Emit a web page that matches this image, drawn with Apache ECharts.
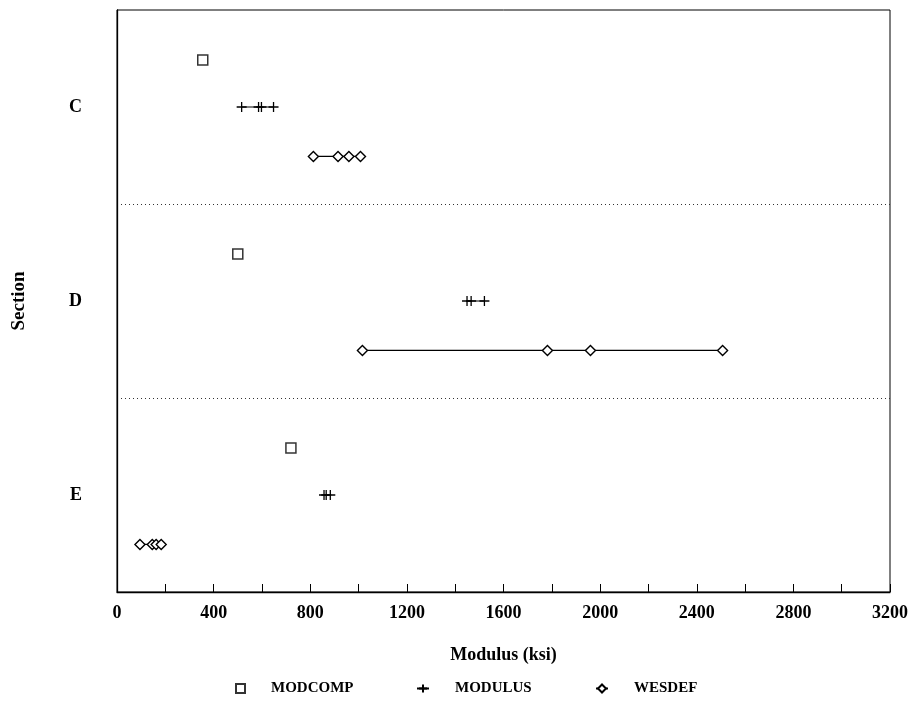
<!DOCTYPE html>
<html>
<head>
<meta charset="utf-8">
<script src="https://cdn.jsdelivr.net/npm/echarts@6/dist/echarts.min.js"></script>
<style>
html,body{margin:0;padding:0;background:#fff;}
#chart{width:917px;height:709px;}
</style>
</head>
<body>
<div id="chart"></div>
<script>
// Categories (sections, top to bottom)
var sections = ['C', 'D', 'E'];
// Series names
var seriesNames = ['MODCOMP', 'MODULUS', 'WESDEF'];
// Modulus values (ksi) per section
var modcomp = [[355], [500], [720]];
var modulus = [[516, 586, 598, 648], [1449, 1466, 1521], [857, 866, 883]];
var wesdef  = [[813, 915, 960, 1008], [1016, 1782, 1960, 2507], [95, 146, 162, 183]];
// X-axis tick labels
var xTicks = [0, 400, 800, 1200, 1600, 2000, 2400, 2800, 3200];

var FONT = '"Liberation Serif", "DejaVu Serif", serif';
// vertical placement of each series within its section band
var bandOffset = { MODCOMP: -0.242, MODULUS: 0.0, WESDEF: 0.255 };

function pts(vals, si, name) {
  return vals.map(function (v) { return [v, si + 0.5 + bandOffset[name]]; });
}

var series = [];
sections.forEach(function (s, si) {
  series.push({
    name: 'MODCOMP', type: 'scatter', yAxisIndex: 1,
    symbol: 'rect', symbolSize: 10,
    itemStyle: { color: '#fff', borderColor: '#000', borderWidth: 1.5 },
    data: pts(modcomp[si], si, 'MODCOMP'), z: 3
  });
  series.push({
    name: 'MODULUS', type: 'line', yAxisIndex: 1,
    symbol: 'path://M0,5L10,5M5,0L5,10', symbolSize: [10, 10], showAllSymbol: true,
    lineStyle: { color: '#000', width: 1.2 },
    itemStyle: { color: '#000', borderColor: '#000', borderWidth: 1.3 },
    data: pts(modulus[si], si, 'MODULUS'), z: 3
  });
  series.push({
    name: 'WESDEF', type: 'line', yAxisIndex: 1,
    symbol: 'diamond', symbolSize: [10, 10], showAllSymbol: true,
    lineStyle: { color: '#000', width: 1.2 },
    itemStyle: { color: '#fff', borderColor: '#000', borderWidth: 1.4 },
    data: pts(wesdef[si], si, 'WESDEF'), z: 3
  });
});

function legendFor(name, left, w, h) {
  return {
    data: [name], left: left, top: 676, orient: 'horizontal',
    itemWidth: w, itemHeight: h, selectedMode: false,
    textStyle: { fontFamily: FONT, fontWeight: 'bold', fontSize: 15, color: '#000', padding: [0, 0, 0, 21] }
  };
}

var chart = echarts.init(document.getElementById('chart'), null, { renderer: 'canvas' });
chart.setOption({
  animation: false,
  backgroundColor: '#fff',
  grid: { left: 117, right: 27, top: 10, bottom: 117, show: true, borderColor: '#000', borderWidth: 1, backgroundColor: 'transparent' },
  legend: [legendFor('MODCOMP', 230, 9, 9), legendFor('MODULUS', 411, 12, 10), legendFor('WESDEF', 590, 12, 10)],
  xAxis: {
    type: 'value', min: 0, max: 3200, interval: 200,
    name: 'Modulus (ksi)', nameLocation: 'middle', nameGap: 54,
    nameTextStyle: { fontFamily: FONT, fontWeight: 'bold', fontSize: 18, color: '#000' },
    axisLine: { show: true, onZero: false, lineStyle: { color: '#000', width: 1.3 } },
    axisTick: { show: true, inside: true, length: 8, lineStyle: { color: '#000', width: 1 } },
    axisLabel: {
      margin: 12, color: '#000', fontFamily: FONT, fontWeight: 'bold', fontSize: 18,
      showMaxLabel: true, showMinLabel: true,
      formatter: function (v) { return xTicks.indexOf(v) >= 0 ? String(v) : ''; }
    },
    splitLine: { show: false }
  },
  yAxis: [{
    type: 'category', data: sections, inverse: true, boundaryGap: true,
    name: 'Section', nameLocation: 'middle', nameGap: 88, nameRotate: 90,
    nameTextStyle: { fontFamily: FONT, fontWeight: 'bold', fontSize: 19, color: '#000' },
    axisLine: { show: true, lineStyle: { color: '#000', width: 1.3 } },
    axisTick: { show: false },
    axisLabel: { margin: 35, color: '#000', fontFamily: FONT, fontWeight: 'bold', fontSize: 18 },
    splitLine: {
      show: true, lineStyle: { color: '#333', width: 1, type: [1, 3] },
      interval: function (i) { return i > 0 && i < sections.length; }
    }
  }, {
    type: 'value', min: 0, max: 3, inverse: true, show: false
  }],
  series: series
});
</script>
</body>
</html>
